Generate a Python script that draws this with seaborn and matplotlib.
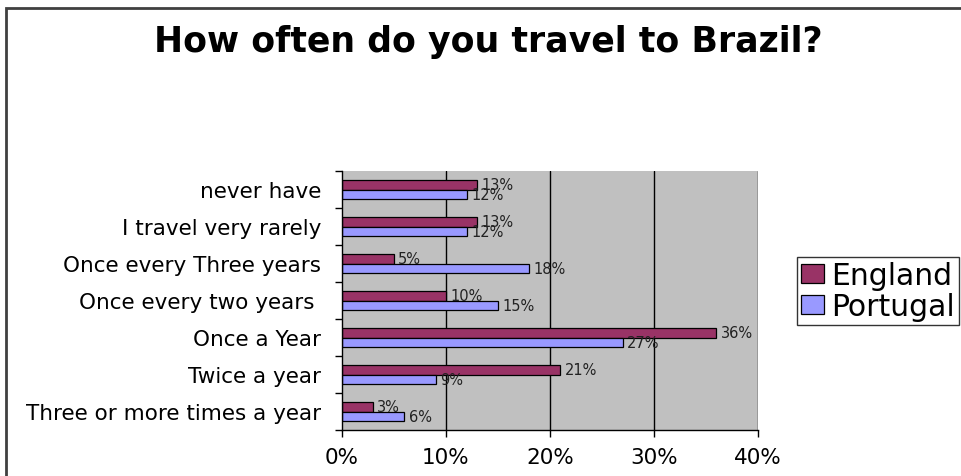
import matplotlib
matplotlib.use("Agg")
import matplotlib.pyplot as plt
import seaborn as sns
import pandas as pd
import numpy as np
from matplotlib.ticker import FuncFormatter, FixedLocator
from matplotlib.patches import Rectangle

categories = ["never have", "I travel very rarely", "Once every Three years",
              "Once every two years ", "Once a Year", "Twice a year",
              "Three or more times a year"]
england = [13, 13, 5, 10, 36, 21, 3]
portugal = [12, 12, 18, 15, 27, 9, 6]
series = ["England", "Portugal"]
colors = ["#993366", "#9999FF"]
xticks = [0, 10, 20, 30, 40]

df = pd.DataFrame({
    "category": categories * 2,
    "value": england + portugal,
    "series": [series[0]] * len(categories) + [series[1]] * len(categories),
})

sns.set_style("white")
plt.rcParams["font.family"] = ["DejaVu Sans"]
plt.rcParams["text.color"] = "black"

W, H = 962, 477
fig = plt.figure(figsize=(W / 100, H / 100), dpi=100)
ax = fig.add_axes([342 / W, 1 - 431 / H, (758 - 342) / W, (431 - 172) / H])

sns.barplot(data=df, x="value", y="category", hue="series", order=categories,
            hue_order=series, palette=colors, width=0.5, orient="h",
            edgecolor="black", linewidth=0.9, saturation=1, ax=ax, legend=False)

ax.set_facecolor("#C0C0C0")
ax.set_xlim(0, 40)
ax.set_ylim(len(categories) - 0.5, -0.5)
ax.set_xlabel("")
ax.set_ylabel("")
ax.xaxis.set_major_locator(FixedLocator(xticks))
ax.xaxis.set_major_formatter(FuncFormatter(lambda v, p: f"{int(v)}%"))
for v in xticks[1:]:
    ax.axvline(v, color="black", lw=1, zorder=0.5)

for c in ax.containers:
    ax.bar_label(c, labels=[f"{int(v)}%" for v in c.datavalues], padding=3,
                 fontsize=10.5, color="#222222")

ax.spines["top"].set_visible(False)
ax.spines["right"].set_visible(False)
for s in ["left", "bottom"]:
    ax.spines[s].set_color("black")
    ax.spines[s].set_linewidth(1)

ax.tick_params(axis="y", which="major", length=0, pad=15, labelsize=15.5, labelcolor="black")
ax.set_yticks(np.arange(-0.5, len(categories), 1), minor=True)
ax.tick_params(axis="y", which="minor", length=5, width=1, color="black", direction="out", left=True)
ax.tick_params(axis="x", length=5, width=1, color="black", direction="out", bottom=True,
               pad=7, labelsize=15.5, labelcolor="black")

fig.text(488 / W, 1 - 42 / H, "How often do you travel to Brazil?", ha="center", va="center",
         fontsize=25, fontweight="bold", color="black")

handles = [Rectangle((0, 0), 1, 1, facecolor=col, edgecolor="black", lw=0.9) for col in colors]
leg = fig.legend(handles, series, loc="upper left", bbox_to_anchor=(797 / W, 1 - 258 / H),
                 fontsize=21.5, frameon=True, fancybox=False, edgecolor="black",
                 borderpad=0.15, handlelength=0.75, handleheight=0.6, handletextpad=0.25,
                 labelspacing=0.05, borderaxespad=0, labelcolor="black")
leg.get_frame().set_linewidth(1)

fig.add_artist(Rectangle((6 / W, -0.1), 1.2, 1 - 9 / H + 0.1, transform=fig.transFigure,
                         fill=False, edgecolor="#404040", lw=2))

fig.savefig("out.png", dpi=100)
